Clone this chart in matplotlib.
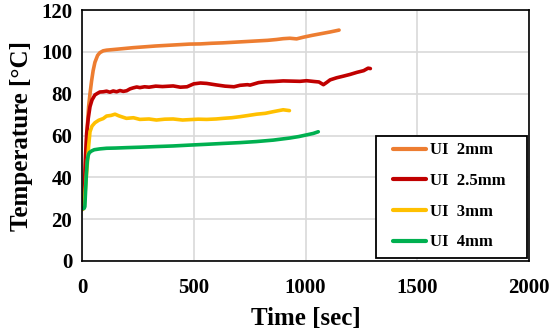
import matplotlib
matplotlib.use("Agg")
import matplotlib.pyplot as plt
from matplotlib.patches import Rectangle

plt.rcParams['font.family'] = ['Liberation Serif', 'DejaVu Serif']
plt.rcParams['font.weight'] = 'bold'

# ---- data ----
t_2mm = [0, 5, 10, 15, 20, 25, 30, 36, 43, 50, 58, 70, 80, 95, 110, 140, 180, 229, 280, 330, 380,
         430, 480, 530, 580, 630, 680, 730, 780, 830, 870, 900, 930, 960, 990, 1030, 1070, 1110, 1150]
v_2mm = [25, 25.5, 30, 42, 55, 66, 74, 80, 86, 91, 95, 98.3, 99.6, 100.5, 100.8, 101.1, 101.5, 102, 102.4, 102.8, 103.1,
         103.4, 103.7, 103.8, 104.1, 104.3, 104.6, 104.9, 105.2, 105.5, 105.9, 106.3, 106.5, 106.2, 107, 107.9, 108.7, 109.5, 110.4]

t_25mm = [0, 5, 10, 15, 21, 28, 36, 45, 58, 70, 80, 95, 110, 125, 140, 155, 170, 185, 200, 215, 230, 245,
          259, 280, 300, 330, 360, 408, 440, 470, 500, 530, 558, 600, 640, 680, 707, 740, 752, 790, 820,
          856, 900, 940, 975, 1005, 1040, 1060, 1080, 1095, 1110, 1139, 1170, 1199, 1230, 1260, 1280, 1290]
v_25mm = [24.5, 25, 32, 48, 61, 68, 73.8, 77, 79.4, 80.2, 80.8, 80.9, 81.2, 80.7, 81.3, 80.9, 81.5, 81.1, 81.4, 82.3, 82.8, 83.2,
          82.9, 83.3, 83.1, 83.6, 83.4, 83.7, 83.1, 83.3, 84.7, 85.1, 84.9, 84.2, 83.6, 83.3, 84.0, 84.3, 84.1, 85.3, 85.7,
          85.8, 86.1, 86.0, 85.9, 86.2, 85.8, 85.6, 84.3, 85.4, 86.6, 87.6, 88.4, 89.2, 90.2, 91.0, 92.2, 92.0]

t_3mm = [0, 5, 10, 15, 23, 30, 36, 45, 58, 75, 95, 110, 130, 148, 165, 199, 230, 259, 300, 333, 370,
         408, 450, 483, 520, 558, 600, 632, 670, 707, 745, 782, 820, 856, 880, 900, 928]
v_3mm = [25, 24.8, 26, 34, 45, 55, 61.8, 64.5, 66.1, 67.3, 68.1, 69.3, 69.6, 70.2, 69.4, 68.2, 68.5, 67.7, 67.9, 67.4, 67.8,
         67.9, 67.4, 67.6, 67.8, 67.7, 67.9, 68.2, 68.5, 69.0, 69.6, 70.2, 70.6, 71.4, 71.9, 72.3, 71.9]

t_4mm = [0, 5, 10, 13, 16, 20, 24, 28, 33, 43, 55, 80, 110, 150, 200, 259, 330, 408, 480, 558, 630,
         707, 780, 856, 930, 970, 1005, 1035, 1057]
v_4mm = [25.3, 25, 25.2, 26, 33, 42, 48, 50.5, 51.8, 52.6, 53.2, 53.6, 53.9, 54.0, 54.2, 54.4, 54.7, 55.0, 55.4, 55.8, 56.2,
         56.6, 57.1, 57.8, 58.8, 59.5, 60.3, 61.0, 61.8]

labels = ['UI  2mm', 'UI  2.5mm', 'UI  3mm', 'UI  4mm']
colors = ['#ED7D31', '#C00000', '#FFC000', '#00B050']

x_ticks = [0, 500, 1000, 1500, 2000]
y_ticks = [0, 20, 40, 60, 80, 100, 120]

# ---- figure ----
fig = plt.figure(figsize=(5.5, 3.34), dpi=100)
ax = fig.add_axes([0.149, 0.2186, 0.813, 0.7514])

series = [(t_2mm, v_2mm), (t_25mm, v_25mm), (t_3mm, v_3mm), (t_4mm, v_4mm)]
for (t, v), lab, c in zip(series, labels, colors):
    ax.plot(t, v, color=c, lw=2.6, label=lab, solid_capstyle='round', solid_joinstyle='round')

ax.set_xlim(0, 2000)
ax.set_ylim(0, 120)
ax.set_xticks(x_ticks)
ax.set_yticks(y_ticks)
ax.grid(True, color='#D9D9D9', lw=1.2)
ax.set_axisbelow(True)
for s in ax.spines.values():
    s.set_color('black')
    s.set_linewidth(1.2)
ax.tick_params(length=0, labelsize=15)
ax.tick_params(axis='x', pad=12)
ax.tick_params(axis='y', pad=7)
for lbl in ax.get_xticklabels() + ax.get_yticklabels():
    lbl.set_fontweight('bold')

ax.set_xlabel('Time [sec]', fontsize=18, fontweight='bold', labelpad=7)
ax.set_ylabel('Temperature [°C]', fontsize=18, fontweight='bold', labelpad=6)

# legend frame (drawn as a rectangle in axes coordinates)
frame = Rectangle((0.658, 0.012), 0.338, 0.486, transform=ax.transAxes,
                  facecolor='white', edgecolor='black', lw=1.3, zorder=4)
ax.add_patch(frame)

leg = ax.legend(loc='upper left', bbox_to_anchor=(0.696, 0.4725), frameon=False,
                handlelength=1.95, handletextpad=0.25, labelspacing=0.88,
                borderpad=0, borderaxespad=0, prop={'weight': 'bold', 'size': 12})
leg.set_zorder(5)
for h in leg.get_lines():
    h.set_linewidth(3)

fig.savefig('out.png', dpi=100)
